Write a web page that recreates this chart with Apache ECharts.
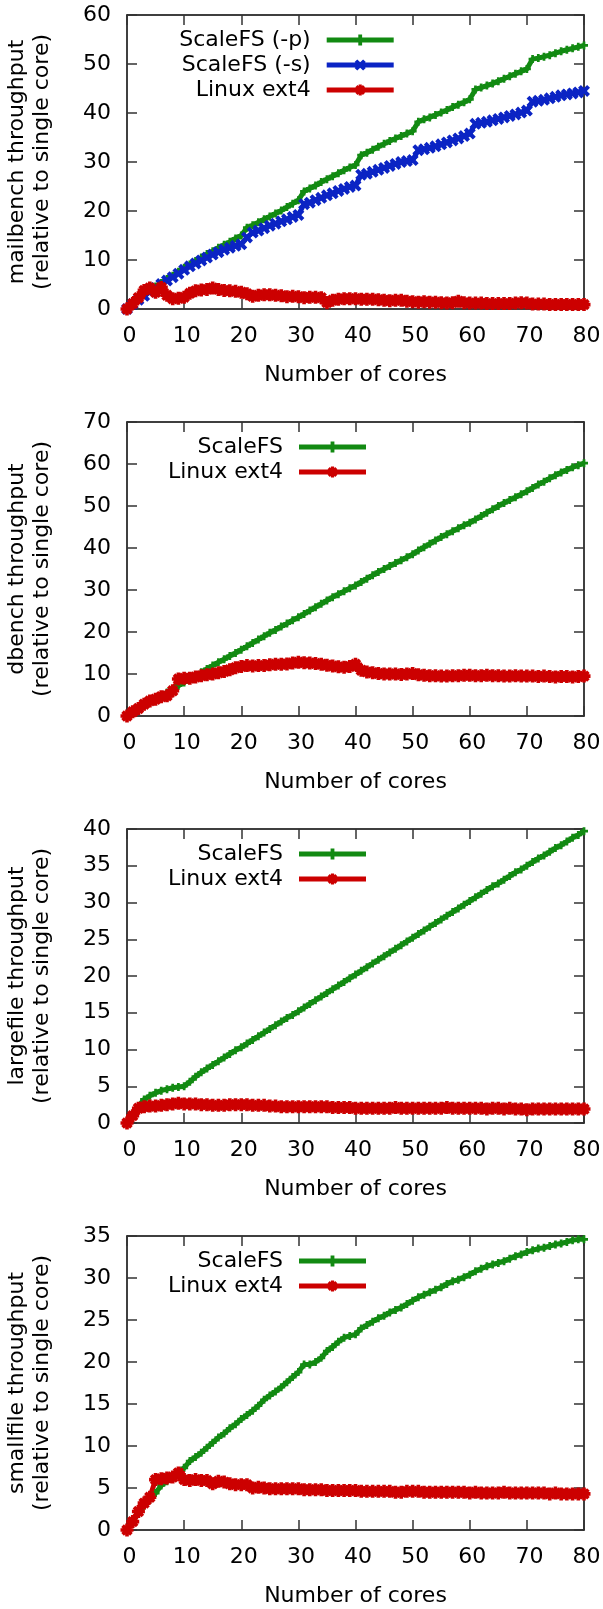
<!DOCTYPE html>
<html><head><meta charset="utf-8">
<script src="https://cdn.jsdelivr.net/npm/echarts@6/dist/echarts.min.js"></script>
<style>html,body{margin:0;padding:0;background:#fff}#c{width:603px;height:1609px}</style>
</head><body><div id="c"></div>
<script>
// ---------- data ----------
const cores = [0,1,2,3,4,5,6,7,8,9,10,11,12,13,14,15,16,17,18,19,20,21,22,23,24,25,26,27,28,29,30,31,32,33,34,35,36,37,38,39,40,41,42,43,44,45,46,47,48,49,50,51,52,53,54,55,56,57,58,59,60,61,62,63,64,65,66,67,68,69,70,71,72,73,74,75,76,77,78,79,80];
const xTicks = [0,10,20,30,40,50,60,70,80];

const mailScaleP = [0,1.1,2.1,3.0,3.8,4.6,5.3,6.1,6.8,7.6,
 8.4,9.1,9.8,10.5,11.2,11.8,12.5,13.1,13.7,14.4,
 15.0,16.6,17.1,17.7,18.3,18.9,19.5,20.1,20.8,21.5,
 22.2,24.0,24.6,25.2,25.9,26.5,27.1,27.7,28.3,28.9,
 29.4,31.4,31.9,32.5,33.1,33.7,34.3,34.8,35.3,35.8,
 36.3,38.2,38.7,39.1,39.6,40.1,40.6,41.2,41.7,42.2,
 42.8,44.8,45.2,45.6,46.0,46.5,47.0,47.5,48.0,48.5,
 49.0,51.0,51.2,51.5,51.8,52.2,52.6,52.9,53.2,53.5,53.8];
const mailScaleS = [0,1.0,1.9,2.7,3.5,4.3,5.1,5.8,6.5,7.2,
 8.0,8.7,9.3,9.9,10.5,11.1,11.6,12.1,12.5,12.9,
 13.2,14.6,15.6,16.0,16.5,17.0,17.4,17.9,18.3,18.8,
 19.2,21.4,21.7,22.2,22.7,23.2,23.6,24.1,24.5,24.9,
 25.2,27.4,27.6,28.0,28.4,28.8,29.2,29.6,30.0,30.2,
 30.4,32.4,32.6,32.9,33.2,33.6,34.0,34.4,34.8,35.3,
 35.8,37.8,38.0,38.2,38.5,38.8,39.1,39.4,39.7,40.1,
 40.5,42.3,42.5,42.7,43.0,43.3,43.6,43.8,44.0,44.2,44.5];
const mailExt4 = [0,1.1,2.3,3.8,4.3,3.4,4.4,2.8,2.1,2.2,
 2.4,3.2,3.7,3.9,4.0,4.3,4.0,3.8,3.7,3.6,
 3.4,3.1,2.6,2.8,2.9,2.9,2.8,2.7,2.5,2.6,
 2.5,2.3,2.4,2.4,2.3,1.3,1.8,2.0,2.1,2.1,
 2.1,2.0,2.0,2.0,1.9,1.8,1.7,1.8,1.8,1.6,
 1.5,1.4,1.5,1.4,1.4,1.3,1.2,1.3,1.6,1.3,
 1.2,1.2,1.2,1.1,1.1,1.1,1.1,1.1,1.2,1.3,
 1.2,1.0,1.0,1.0,0.9,0.9,0.9,0.9,0.9,0.9,0.9];

const dbScale = [0,0.9,1.7,2.5,3.3,4.0,4.8,5.6,6.4,7.2,
 8.0,8.8,9.6,10.4,11.2,12.0,12.8,13.5,14.3,15.0,
 15.8,16.6,17.4,18.2,19.0,19.8,20.5,21.3,22.0,22.8,
 23.5,24.3,25.1,25.9,26.7,27.5,28.3,29.0,29.7,30.4,
 31.1,31.9,32.7,33.5,34.3,35.0,35.7,36.4,37.1,37.8,
 38.5,39.4,40.2,41.0,41.8,42.6,43.3,44.0,44.7,45.4,
 46.0,46.8,47.6,48.4,49.2,50.0,50.7,51.4,52.1,52.8,
 53.5,54.3,55.1,55.8,56.6,57.3,58.0,58.6,59.2,59.7,60.2];
const dbExt4 = [0,1.0,1.8,2.8,3.6,4.0,4.6,4.8,6.0,8.8,
 9.0,9.0,9.3,9.6,9.8,10.0,10.3,10.6,11.0,11.5,
 11.8,12.0,11.9,12.0,12.0,12.2,12.3,12.3,12.4,12.6,
 12.8,12.7,12.6,12.5,12.3,12.1,11.9,11.7,11.6,11.8,
 12.3,10.9,10.5,10.3,10.1,10.0,10.0,10.0,9.9,10.0,
 10.1,9.8,9.7,9.6,9.6,9.5,9.5,9.6,9.6,9.7,
 9.7,9.6,9.6,9.7,9.6,9.6,9.5,9.5,9.6,9.5,
 9.5,9.5,9.4,9.5,9.4,9.3,9.4,9.4,9.3,9.4,9.5];

const largeScale = [0,1.2,2.3,3.2,3.7,4.1,4.4,4.6,4.8,4.9,
 5.0,5.6,6.3,6.9,7.4,7.9,8.4,8.9,9.4,9.9,
 10.3,10.8,11.3,11.8,12.3,12.8,13.3,13.8,14.3,14.7,
 15.2,15.7,16.2,16.7,17.2,17.7,18.2,18.7,19.2,19.7,
 20.2,20.7,21.2,21.7,22.2,22.7,23.2,23.7,24.2,24.7,
 25.2,25.7,26.2,26.7,27.2,27.7,28.2,28.7,29.2,29.7,
 30.2,30.7,31.2,31.7,32.2,32.6,33.1,33.6,34.1,34.5,
 35.0,35.5,36.0,36.4,36.9,37.4,37.8,38.3,38.8,39.2,39.7];
const largeExt4 = [0,1.0,2.0,2.2,2.3,2.3,2.4,2.5,2.6,2.7,
 2.6,2.6,2.6,2.5,2.5,2.4,2.4,2.4,2.5,2.5,
 2.5,2.5,2.4,2.4,2.4,2.3,2.3,2.2,2.2,2.2,
 2.2,2.2,2.2,2.2,2.2,2.2,2.1,2.1,2.1,2.1,
 2.0,2.0,2.0,2.0,2.0,2.0,2.0,2.1,2.0,2.0,
 2.0,2.0,2.0,2.0,2.0,2.0,2.1,2.0,2.0,2.0,
 2.0,2.0,2.0,1.9,2.0,2.0,1.9,2.0,1.9,1.9,
 1.8,1.9,1.9,1.9,1.9,1.9,1.9,1.9,1.9,1.9,1.9];

const smallScale = [0,1.0,2.0,2.9,3.6,4.4,5.3,5.8,6.3,6.8,
 7.4,8.2,8.7,9.2,9.8,10.4,11.0,11.5,12.1,12.6,
 13.2,13.7,14.2,14.8,15.5,16.0,16.5,17.0,17.6,18.2,
 18.8,19.7,19.7,20.0,20.5,21.3,21.8,22.4,22.9,23.1,
 23.3,24.0,24.4,24.8,25.2,25.5,25.9,26.2,26.5,26.9,
 27.3,27.7,28.0,28.3,28.6,28.9,29.3,29.6,29.8,30.1,
 30.4,30.8,31.1,31.4,31.6,31.8,32.0,32.3,32.6,32.8,
 33.1,33.3,33.5,33.6,33.8,34.0,34.1,34.3,34.5,34.6,34.6];
const smallExt4 = [0,1.0,2.2,3.2,3.9,6.0,6.1,6.2,6.3,6.8,
 6.0,5.9,6.0,5.9,5.9,5.5,5.8,5.7,5.5,5.4,
 5.4,5.4,5.0,5.1,5.0,4.9,4.9,4.9,4.9,4.9,
 4.9,4.8,4.8,4.8,4.8,4.7,4.7,4.7,4.7,4.7,
 4.7,4.6,4.6,4.6,4.6,4.6,4.6,4.5,4.5,4.6,
 4.6,4.6,4.5,4.5,4.5,4.5,4.5,4.5,4.5,4.5,
 4.4,4.5,4.4,4.4,4.4,4.4,4.5,4.4,4.4,4.4,
 4.4,4.4,4.4,4.4,4.3,4.4,4.3,4.3,4.3,4.3,4.3];

const yNames = ['mailbench throughput', 'dbench throughput', 'largefile throughput', 'smallfile throughput'];
const yMaxes = [60, 70, 40, 35];
const yIntervals = [10, 10, 5, 5];
const xName = 'Number of cores';
const ySub = '(relative to single core)';

// ---------- styling / layout ----------
const FONT = 'DejaVu Sans';
const PLUS = 'path://M3.3,0H6.7V3.3H10V6.7H6.7V10H3.3V6.7H0V3.3H3.3Z';
const XS = 'path://M0,2.4L2.4,0L5,2.6L7.6,0L10,2.4L7.4,5L10,7.6L7.6,10L5,7.4L2.4,10L0,7.6L2.6,5Z';
const STAR = 'path://M3.6,0H6.4V3.6H10V6.4H6.4V10H3.6V6.4H0V3.6H3.6Z M0.6,2.6L2.6,0.6L5,3L7.4,0.6L9.4,2.6L7,5L9.4,7.4L7.4,9.4L5,7L2.6,9.4L0.6,7.4L3,5Z';
const kinds = {
  g: {color: '#128a12', symbol: PLUS, size: 8},
  b: {color: '#0b24c4', symbol: XS, size: 12},
  r: {color: '#cc0000', symbol: STAR, size: 13}
};
const panelSeries = [
  [['ScaleFS (-p)', mailScaleP, 'g'], ['ScaleFS (-s)', mailScaleS, 'b'], ['Linux ext4', mailExt4, 'r']],
  [['ScaleFS', dbScale, 'g'], ['Linux ext4', dbExt4, 'r']],
  [['ScaleFS', largeScale, 'g'], ['Linux ext4', largeExt4, 'r']],
  [['ScaleFS', smallScale, 'g'], ['Linux ext4', smallExt4, 'r']]
];
const tops = [15, 422, 829, 1236];
const H = 294, GL = 127, GR = 19;
const legendIconX = [326.7, 299, 299, 299];
const legendTextW = [140, 125, 125, 125];

const grid = [], xAxis = [], yAxis = [], series = [], legend = [];
const axisLineStyle = {color: '#000', width: 1.5};
const tickStyle = {color: '#333', width: 1.5};
const lbl = {fontFamily: FONT, fontSize: 22, color: '#000'};

for (let i = 0; i < 4; i++) {
  grid.push({left: GL, right: GR, top: tops[i], height: H, show: false, outerBoundsMode: 'none'});
  xAxis.push({
    gridIndex: i, type: 'value', position: 'bottom', min: 0, max: 80, interval: 10,
    name: xName, nameLocation: 'middle', nameGap: 55,
    nameTextStyle: {fontFamily: FONT, fontSize: 22, color: '#000'},
    axisLine: {show: true, onZero: false, lineStyle: axisLineStyle},
    axisTick: {show: true, inside: true, length: 10, lineStyle: tickStyle},
    axisLabel: Object.assign({margin: 16, padding: [0, 0, 0, 5], formatter: v => xTicks.includes(v) ? String(v) : ''}, lbl),
    splitLine: {show: false}
  });
  xAxis.push({
    gridIndex: i, type: 'value', position: 'top', min: 0, max: 80, interval: 10,
    axisLine: {show: true, onZero: false, lineStyle: axisLineStyle},
    axisTick: {show: true, inside: true, length: 10, lineStyle: tickStyle},
    axisLabel: {show: false}, splitLine: {show: false}
  });
  yAxis.push({
    gridIndex: i, type: 'value', position: 'left', min: 0, max: yMaxes[i], interval: yIntervals[i],
    name: yNames[i] + '\n' + ySub, nameLocation: 'middle', nameRotate: 90, nameGap: 72,
    nameTextStyle: {fontFamily: FONT, fontSize: 22, color: '#000', lineHeight: 25},
    axisLine: {show: true, onZero: false, lineStyle: axisLineStyle},
    axisTick: {show: true, inside: true, length: 10, lineStyle: tickStyle},
    axisLabel: Object.assign({margin: 16}, lbl),
    splitLine: {show: false}
  });
  yAxis.push({
    gridIndex: i, type: 'value', position: 'right', min: 0, max: yMaxes[i], interval: yIntervals[i],
    axisLine: {show: true, onZero: false, lineStyle: axisLineStyle},
    axisTick: {show: true, inside: true, length: 10, lineStyle: tickStyle},
    axisLabel: {show: false}, splitLine: {show: false}
  });
  const names = [];
  panelSeries[i].forEach(([name, vals, k]) => {
    const st = kinds[k];
    names.push(name);
    series.push({
      type: 'line', name, xAxisIndex: 2 * i, yAxisIndex: 2 * i,
      data: cores.map((c, j) => [c, vals[j]]),
      symbol: st.symbol, symbolSize: st.size, showSymbol: true, clip: false,
      itemStyle: {color: st.color}, lineStyle: {color: st.color, width: 5},
      emphasis: {disabled: true}, animation: false
    });
  });
  legend.push({
    orient: 'vertical', left: legendIconX[i] - 16 - legendTextW[i], top: tops[i] + 12.5,
    padding: 0, itemGap: 0, itemWidth: 67, itemHeight: 14, align: 'right',
    selectedMode: false, data: names,
    lineStyle: {width: 5},
    textStyle: {fontFamily: FONT, fontSize: 22, color: '#000', width: legendTextW[i], lineHeight: 25, padding: [0, 11, 0, 0]}
  });
}

const chart = echarts.init(document.getElementById('c'), null, {renderer: 'canvas', width: 603, height: 1609});
chart.setOption({animation: false, backgroundColor: '#fff', grid, xAxis, yAxis, series, legend});
</script>
</body></html>
